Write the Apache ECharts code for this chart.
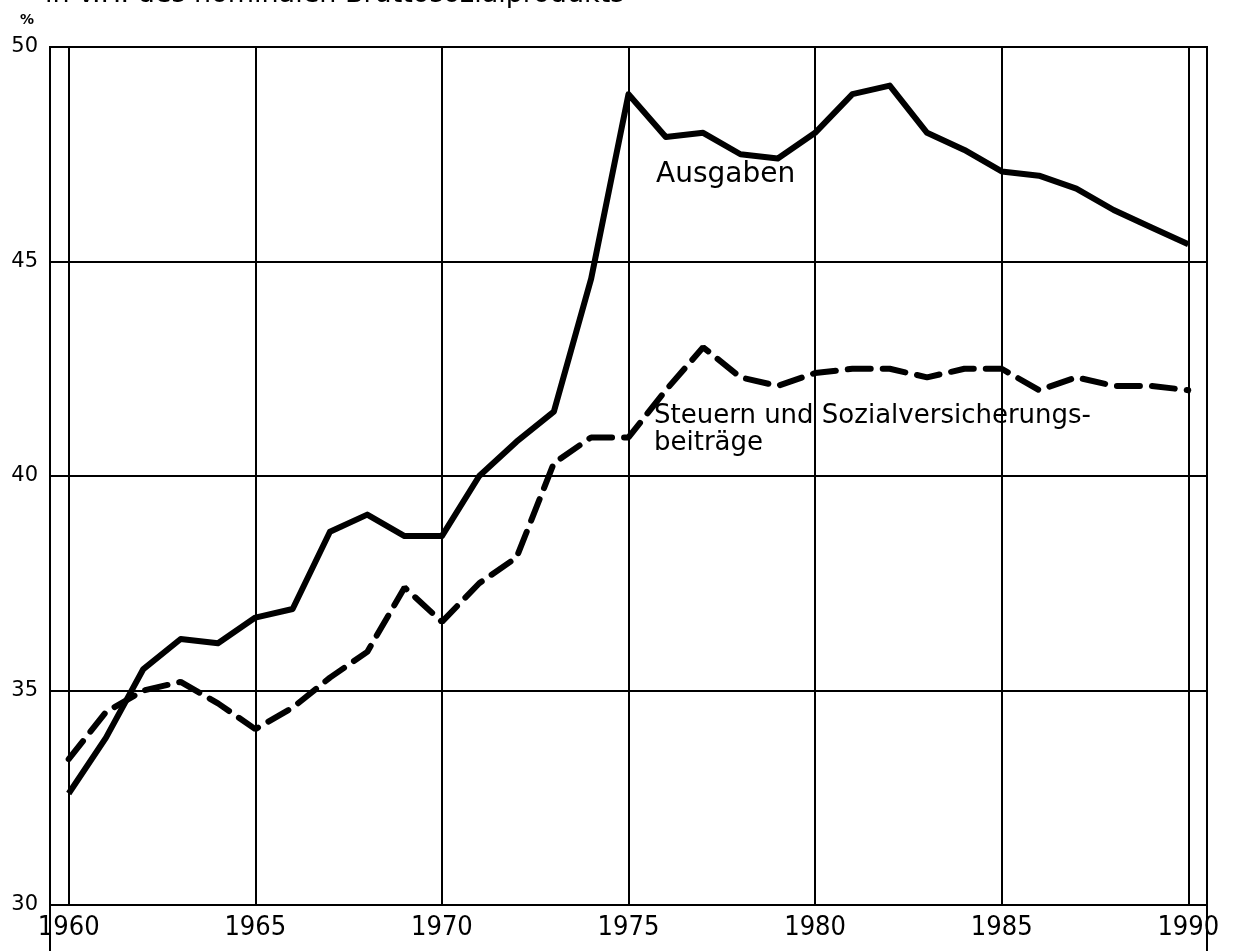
<!DOCTYPE html>
<html>
<head>
<meta charset="utf-8">
<script src="https://cdn.jsdelivr.net/npm/echarts@6.0.0/dist/echarts.min.js"></script>
<style>
  html, body { margin: 0; padding: 0; background: #fff; }
  #chart { width: 1234px; height: 951px; }
</style>
</head>
<body>
<div id="chart"></div>
<script>
  // Jahre 1960 - 1990
  var years = [1960, 1961, 1962, 1963, 1964, 1965, 1966, 1967, 1968, 1969,
    1970, 1971, 1972, 1973, 1974, 1975, 1976, 1977, 1978, 1979,
    1980, 1981, 1982, 1983, 1984, 1985, 1986, 1987, 1988, 1989, 1990]
  // Ausgaben in v.H. des BSP
  var ausgaben = [32.6, 33.9, 35.5, 36.2, 36.1, 36.7, 36.9, 38.7, 39.1, 38.6,
    38.6, 40.0, 40.8, 41.5, 44.6, 48.9, 47.9, 48.0, 47.5, 47.4,
    48.0, 48.9, 49.1, 48.0, 47.6, 47.1, 47.0, 46.7, 46.2, 45.8, 45.4]
  // Steuern und Sozialversicherungsbeitraege
  var steuern = [33.4, 34.5, 35.0, 35.2, 34.7, 34.1, 34.6, 35.3, 35.9, 37.4,
    36.6, 37.5, 38.1, 40.3, 40.9, 40.9, 42.0, 43.0, 42.3, 42.1,
    42.4, 42.5, 42.5, 42.3, 42.5, 42.5, 42.0, 42.3, 42.1, 42.1, 42.0]
  var yTicks = [30, 35, 40, 45, 50]
  var xTicks = [1960, 1965, 1970, 1975, 1980, 1985, 1990]

  var pairs = function (vals) {
    return years.map(function (y, i) { return [y, vals[i]] })
  }

  var myChart = echarts.init(document.getElementById('chart'))
  var option = {
    backgroundColor: '#fff',
    animation: false,
    textStyle: { fontFamily: 'DejaVu Sans', color: '#000' },
    grid: [
      // aeusserer Rahmen
      { left: 50, right: 27, top: 47, bottom: 46, show: true, borderColor: '#000', borderWidth: 2, backgroundColor: 'transparent' },
      // Datenbereich 1960 - 1990
      { left: 68.7, right: 45.7, top: 47, bottom: 46 }
    ],
    xAxis: [
      {
        gridIndex: 0, type: 'value', min: 0, max: 1, interval: 1,
        axisLine: { show: false },
        axisTick: { show: true, length: 46, lineStyle: { color: '#000', width: 2 } },
        axisLabel: { show: false },
        splitLine: { show: false }
      },
      {
        gridIndex: 1, type: 'value', min: xTicks[0], max: xTicks[xTicks.length - 1], interval: 5,
        axisLine: { show: false },
        axisTick: { show: false },
        axisLabel: {
          margin: 9, color: '#000', fontSize: 27,
          fontFamily: "'DejaVu Sans Condensed', 'Liberation Sans', sans-serif",
          formatter: function (v) { return String(v) }
        },
        splitLine: { show: true, lineStyle: { color: '#000', width: 2 } }
      }
    ],
    yAxis: [
      {
        gridIndex: 0, type: 'value', min: yTicks[0], max: yTicks[yTicks.length - 1], interval: 5,
        axisLine: { show: false },
        axisTick: { show: false },
        axisLabel: { margin: 12, color: '#000', fontSize: 21 },
        splitLine: { show: true, lineStyle: { color: '#000', width: 2 } }
      },
      {
        gridIndex: 1, type: 'value', min: 30, max: 50, interval: 5,
        axisLine: { show: false }, axisTick: { show: false },
        axisLabel: { show: false }, splitLine: { show: false }
      }
    ],
    series: [
      {
        name: 'Ausgaben',
        type: 'line',
        xAxisIndex: 1, yAxisIndex: 1,
        data: pairs(ausgaben),
        symbol: 'none',
        lineStyle: { color: '#000', width: 6, join: 'round' }
      },
      {
        name: 'Steuern und Sozialversicherungsbeiträge',
        type: 'line',
        xAxisIndex: 1, yAxisIndex: 1,
        data: pairs(steuern),
        symbol: 'none',
        lineStyle: { color: '#000', width: 6, type: [23, 12], cap: 'round' }
      }
    ],
    graphic: [
      { type: 'text', left: 45, top: -19, style: { text: 'in v.H. des nominalen Bruttosozialprodukts', font: '27px DejaVu Sans', fill: '#000' } },
      { type: 'text', left: 20, top: 13, style: { text: '%', font: 'bold 14px DejaVu Sans', fill: '#000' } },
      { type: 'text', left: 656, top: 161, style: { text: 'Ausgaben', font: '28px DejaVu Sans', fill: '#000' } },
      { type: 'text', left: 654, top: 403, style: { text: 'Steuern und Sozialversicherungs-\nbeiträge', font: '26px DejaVu Sans', lineHeight: 27, fill: '#000' } }
    ]
  }
  myChart.setOption(option)
</script>
</body>
</html>
